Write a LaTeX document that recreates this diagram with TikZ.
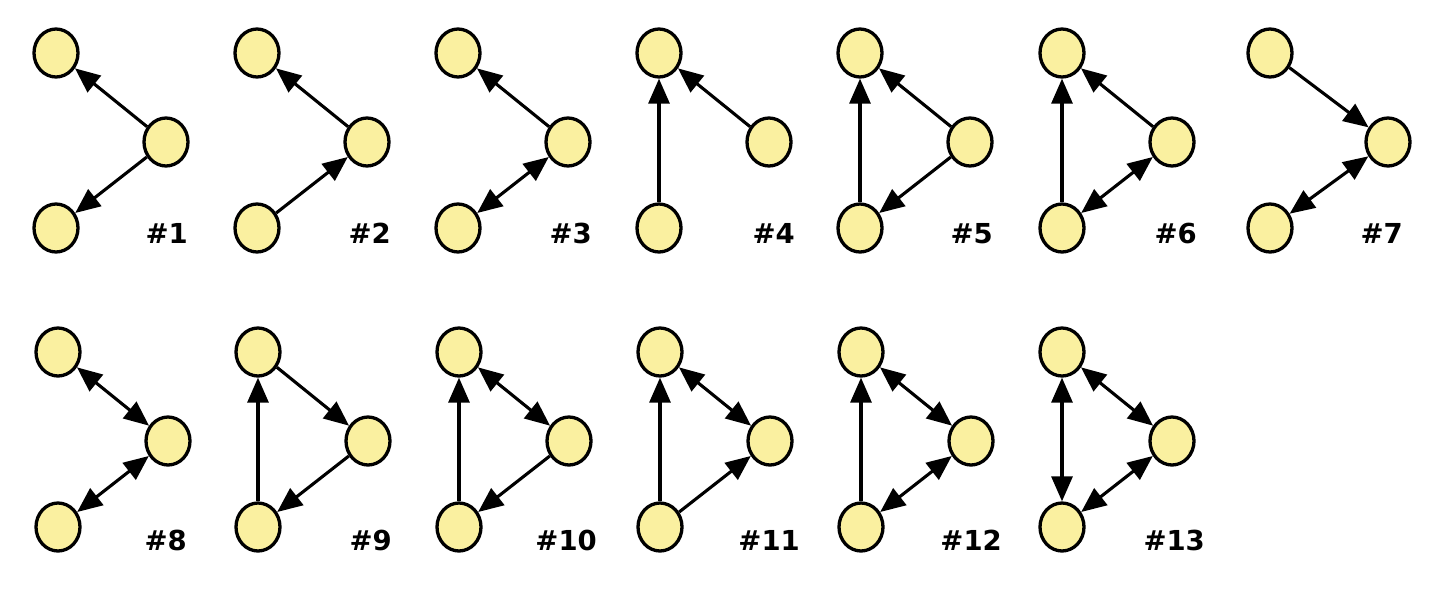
\documentclass[tikz,border=0pt]{standalone}
\usepackage{fontspec}
\setmainfont{DejaVu Sans}
\usetikzlibrary{arrows.meta,shapes.geometric}
\definecolor{nodefill}{HTML}{FAF0A0}
\tikzset{
  vert/.style={ellipse, draw=black, fill=nodefill, line width=3.3pt, minimum width=44pt, minimum height=48pt, inner sep=0pt},
  lab/.style={font=\fontsize{27.5}{30}\selectfont\bfseries, anchor=base east, inner sep=0pt},
  one/.style={line width=3.1pt, -{Triangle[length=25pt,width=21pt]}},
  two/.style={line width=3.1pt, {Triangle[length=25pt,width=21pt]}-{Triangle[length=25pt,width=21pt]}}
}
\newcommand\triad[4]{%
  \node[vert] (#1t) at (#2,#3) {};
  \node[vert] (#1m) at ({#2+#4},{#3+89}) {};
  \node[vert] (#1b) at (#2,{#3+175}) {};}
\begin{document}
\begin{tikzpicture}[x=1pt,y=-1pt]
\useasboundingbox (0,0) rectangle (1444,600);
% row 1
\triad{a}{56}{53}{110}
\triad{b}{257}{53}{110}
\triad{c}{458}{53}{110}
\triad{d}{659}{53}{110}
\triad{e}{860}{53}{110}
\triad{f}{1062}{53}{110}
\triad{g}{1270}{53}{118}
% row 2
\triad{h}{58}{352}{110}
\triad{i}{258}{352}{110}
\triad{j}{459}{352}{110}
\triad{k}{660}{352}{110}
\triad{l}{861}{352}{110}
\triad{m}{1062}{352}{110}
% labels
\node[lab] (lab1) at (188,243) {\#1};
\node[lab] (lab2) at (391,243) {\#2};
\node[lab] (lab3) at (592,243) {\#3};
\node[lab] (lab4) at (795,243) {\#4};
\node[lab] (lab5) at (993,243) {\#5};
\node[lab] (lab6) at (1197,243) {\#6};
\node[lab] (lab7) at (1403,243) {\#7};
\node[lab] (lab8) at (187,550) {\#8};
\node[lab] (lab9) at (392,550) {\#9};
\node[lab] (lab10) at (597,550) {\#10};
\node[lab] (lab11) at (800,550) {\#11};
\node[lab] (lab12) at (1002,550) {\#12};
\node[lab] (lab13) at (1205,550) {\#13};
% edges
% #1
\draw[one] (am) -- (at); \draw[one] (am) -- (ab);
% #2
\draw[one] (bm) -- (bt); \draw[one] (bb) -- (bm);
% #3
\draw[one] (cm) -- (ct); \draw[two] (cm) -- (cb);
% #4
\draw[one] (db) -- (dt); \draw[one] (dm) -- (dt);
% #5
\draw[one] (eb) -- (et); \draw[one] (em) -- (et); \draw[one] (em) -- (eb);
% #6
\draw[one] (fb) -- (ft); \draw[one] (fm) -- (ft); \draw[two] (fm) -- (fb);
% #7
\draw[one] (gt) -- (gm); \draw[two] (gm) -- (gb);
% #8
\draw[two] (ht) -- (hm); \draw[two] (hm) -- (hb);
% #9
\draw[one] (ib) -- (it); \draw[one] (it) -- (im); \draw[one] (im) -- (ib);
% #10
\draw[one] (jb) -- (jt); \draw[two] (jt) -- (jm); \draw[one] (jm) -- (jb);
% #11
\draw[one] (kb) -- (kt); \draw[two] (kt) -- (km); \draw[one] (kb) -- (km);
% #12
\draw[one] (lb) -- (lt); \draw[two] (lt) -- (lm); \draw[two] (lm) -- (lb);
% #13
\draw[two] (mt) -- (mb); \draw[two] (mt) -- (mm); \draw[two] (mm) -- (mb);
\end{tikzpicture}
\end{document}
